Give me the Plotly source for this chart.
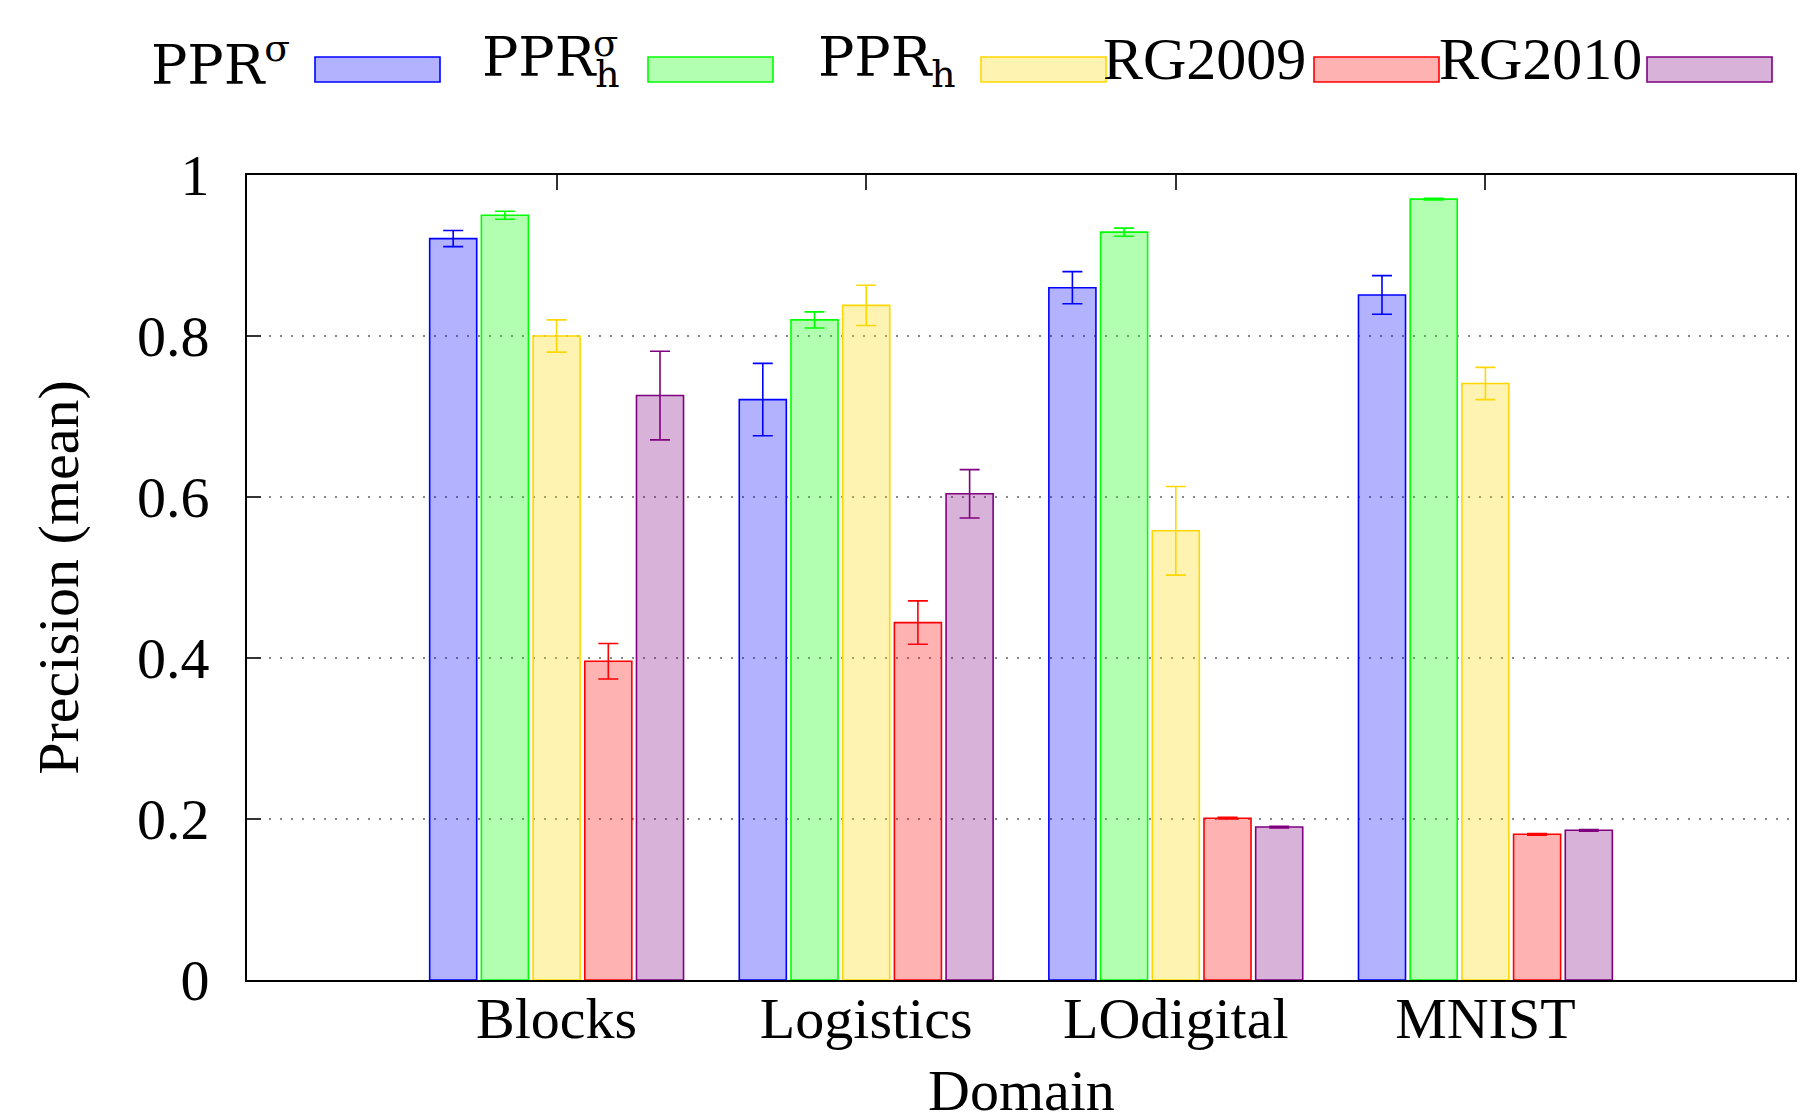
import plotly.graph_objects as go

# ---------------- data ----------------
domains = ["Blocks", "Logistics", "LOdigital", "MNIST"]

ppr_sigma      = [0.921, 0.721, 0.860, 0.851]
ppr_sigma_err  = [0.010, 0.045, 0.020, 0.024]

ppr_h_sigma     = [0.950, 0.820, 0.929, 0.970]
ppr_h_sigma_err = [0.005, 0.010, 0.005, 0.001]

ppr_h      = [0.800, 0.838, 0.558, 0.741]
ppr_h_err  = [0.020, 0.025, 0.055, 0.020]

rg2009     = [0.396, 0.444, 0.201, 0.181]
rg2009_err = [0.022, 0.027, 0.001, 0.001]

rg2010     = [0.726, 0.604, 0.190, 0.186]
rg2010_err = [0.055, 0.030, 0.001, 0.001]

y_ticks = [0, 0.2, 0.4, 0.6, 0.8, 1]
y_tick_labels = ["0", "0.2", "0.4", "0.6", "0.8", "1"]

x_title = "Domain"
y_title = "Precision (mean)"

# ---------------- styling ----------------
series = [
    ("PPR_sigma", ppr_sigma, ppr_sigma_err, (0, 0, 255)),
    ("PPR_h_sigma", ppr_h_sigma, ppr_h_sigma_err, (0, 255, 0)),
    ("PPR_h", ppr_h, ppr_h_err, (255, 215, 0)),
    ("RG2009", rg2009, rg2009_err, (255, 0, 0)),
    ("RG2010", rg2010, rg2010_err, (128, 0, 128)),
]

W, H = 1802, 1114
L, R, T, B = 247, 7, 175, 134
PW, PH = W - L - R, H - T - B
SERIF = "Liberation Serif, Times New Roman, serif"
MONO = "DejaVu Serif, serif"
FS = 58
LFS_SERIF = 60
LFS_MONO = 54


def rgba(c, a):
    return f"rgba({c[0]},{c[1]},{c[2]},{a})"


def px_x(x):
    return (x - L) / PW


def px_y(y):
    return (H - B - y) / PH


fig = go.Figure()
for name, vals, errs, col in series:
    fig.add_trace(go.Bar(
        x=domains, y=vals, name=name, showlegend=False,
        marker=dict(color=rgba(col, 0.3), line=dict(color=rgba(col, 1), width=1.6)),
        error_y=dict(type="data", array=errs, visible=True,
                     color=rgba(col, 1), thickness=1.6, width=10),
    ))

# invisible trace on a top x axis that carries the top tick marks
fig.add_trace(go.Scatter(x=domains, y=[None] * len(domains), xaxis="x2",
                         showlegend=False, hoverinfo="skip", mode="markers"))

fig.update_layout(
    width=W, height=H, autosize=False,
    margin=dict(l=L, r=R, t=T, b=B, pad=0),
    paper_bgcolor="white", plot_bgcolor="white",
    barmode="group", bargap=0.165, bargroupgap=0.09,
    font=dict(family=SERIF, size=FS, color="black"),
    xaxis=dict(
        type="category", range=[-1, len(domains)], automargin=False,
        showline=True, linecolor="black", linewidth=2, mirror=True,
        ticks="", showgrid=False, zeroline=False,
        tickfont=dict(family=SERIF, size=FS),
        ticklabelstandoff=-14,
    ),
    xaxis2=dict(
        type="category", overlaying="x", side="top", matches="x", automargin=False,
        range=[-1, len(domains)], categoryarray=domains, categoryorder="array",
        ticks="inside", ticklen=15, tickwidth=2, tickcolor="#333",
        showticklabels=False, showgrid=False, zeroline=False, showline=False,
    ),
    yaxis=dict(
        range=[0, 1], tickvals=y_ticks, ticktext=y_tick_labels, automargin=False,
        showline=True, linecolor="black", linewidth=2, mirror=True,
        ticks="inside", ticklen=14, tickwidth=1.5, tickcolor="#333",
        showgrid=True, gridcolor="#888", gridwidth=1.5, griddash="2px,9px",
        zeroline=False,
        tickfont=dict(family=SERIF, size=FS),
        ticklabelstandoff=24,
        title=dict(text=y_title, font=dict(family=SERIF, size=FS), standoff=40),
    ),
)

# x axis title (placed as annotation so it can sit at the very bottom like the original)
fig.add_annotation(xref="paper", yref="paper", x=0.5, y=px_y(1090),
                   xanchor="center", yanchor="middle", text=x_title, showarrow=False,
                   font=dict(family=SERIF, size=FS, color="black"))

# ---------------- legend (gnuplot style: text then sample) ----------------
legend_texts = ["PPR<sup>σ</sup>", "PPR<sub>h</sub>", "PPR<sub>h</sub>", "RG2009", "RG2010"]
legend_fonts = [MONO, MONO, MONO, SERIF, SERIF]
legend_sizes = [LFS_MONO, LFS_MONO, LFS_MONO, LFS_SERIF, LFS_SERIF]
legend_ymid = [61, 61, 61, 59, 59]
text_left = [149, 480, 816, 1101, 1437]
sw_left0, sw_step, sw_w, sw_top, sw_bot = 315, 333, 125, 57, 82
ppr_width = 108  # rendered width of "PPR" in the legend font

for i, (name, vals, errs, col) in enumerate(series):
    x0 = sw_left0 + i * sw_step
    fig.add_shape(type="rect", xref="paper", yref="paper",
                  x0=px_x(x0), x1=px_x(x0 + sw_w), y0=px_y(sw_bot), y1=px_y(sw_top),
                  fillcolor=rgba(col, 0.3), line=dict(color=rgba(col, 1), width=1.6),
                  layer="above")
    fig.add_annotation(xref="paper", yref="paper", x=px_x(text_left[i]),
                       y=px_y(legend_ymid[i]), xanchor="left", yanchor="middle",
                       text=legend_texts[i], showarrow=False,
                       font=dict(family=legend_fonts[i], size=legend_sizes[i], color="black"))

# stacked superscript sigma over the subscript h of the second entry
fig.add_annotation(xref="paper", yref="paper", x=px_x(text_left[1] + ppr_width + 3),
                   y=px_y(44), xanchor="left", yanchor="middle",
                   text="σ", showarrow=False,
                   font=dict(family=MONO, size=int(LFS_MONO * 0.7), color="black"))

fig.write_html("out.html", post_script="document.body.style.margin='0px';",
               config={"displayModeBar": False})
